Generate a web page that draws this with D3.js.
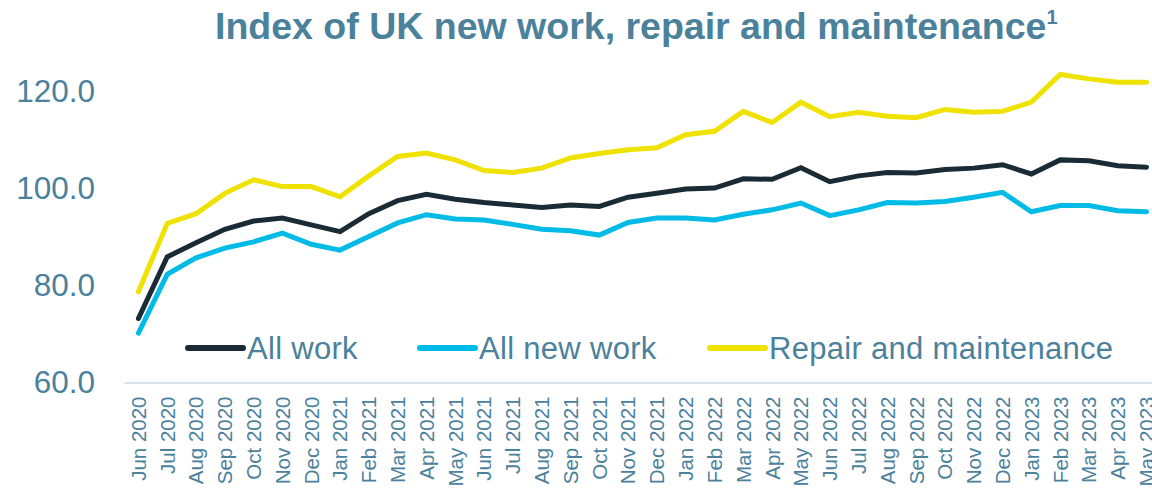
<!DOCTYPE html>
<html>
<head>
<meta charset="utf-8">
<script src="https://cdn.jsdelivr.net/npm/d3@7"></script>
<style>
  html, body { margin: 0; padding: 0; background: #ffffff; }
  svg { display: block; font-family: "Liberation Sans", Arial, sans-serif; }
</style>
</head>
<body>
<svg id="chart" width="1152" height="488"></svg>
<script>
const months = ["Jun 2020","Jul 2020","Aug 2020","Sep 2020","Oct 2020","Nov 2020","Dec 2020",
  "Jan 2021","Feb 2021","Mar 2021","Apr 2021","May 2021","Jun 2021","Jul 2021","Aug 2021","Sep 2021","Oct 2021","Nov 2021","Dec 2021",
  "Jan 2022","Feb 2022","Mar 2022","Apr 2022","May 2022","Jun 2022","Jul 2022","Aug 2022","Sep 2022","Oct 2022","Nov 2022","Dec 2022",
  "Jan 2023","Feb 2023","Mar 2023","Apr 2023","May 2023"];

const allWork = [73.2, 85.9, 88.8, 91.6, 93.3, 93.9, 92.5, 91.1, 94.8, 97.5, 98.8, 97.8,
  97.1, 96.6, 96.1, 96.6, 96.3, 98.2, 99.0, 99.9, 100.1, 102.0, 101.9, 104.3,
  101.4, 102.6, 103.3, 103.2, 103.9, 104.2, 104.9, 103.0, 105.9, 105.7, 104.7, 104.4];

const allNewWork = [70.2, 82.3, 85.7, 87.7, 89.0, 90.8, 88.5, 87.3, 90.1, 92.9, 94.6, 93.7,
  93.5, 92.6, 91.6, 91.3, 90.4, 93.0, 93.9, 93.9, 93.5, 94.7, 95.6, 97.0,
  94.4, 95.6, 97.1, 97.0, 97.3, 98.2, 99.2, 95.2, 96.5, 96.5, 95.4, 95.2];

const repair = [78.7, 92.8, 94.8, 99.0, 101.8, 100.4, 100.4, 98.3, 102.6, 106.6, 107.3, 105.9,
  103.7, 103.3, 104.2, 106.3, 107.2, 108.0, 108.4, 111.1, 111.8, 115.9, 113.6, 117.8,
  114.8, 115.7, 114.9, 114.6, 116.3, 115.7, 115.9, 117.8, 123.5, 122.6, 121.9, 121.9];

const yTicks = [60, 80, 100, 120];

const seriesNames = ["All work", "All new work", "Repair and maintenance"];
const seriesColors = ["#1b2b35", "#00bbe6", "#f0e200"];
const seriesData = [allWork, allNewWork, repair];

const textColor = "#4b819b";

const svg = d3.select("#chart");

const x = d3.scaleBand().domain(months).range([124, 1161]).paddingInner(0).paddingOuter(0);
const y = d3.scaleLinear().domain([60, 120]).range([382.5, 91.5]);

// Title
const title = svg.append("text")
  .attr("x", 215).attr("y", 39)
  .attr("text-anchor", "start")
  .attr("fill", textColor)
  .attr("font-weight", "bold")
  .attr("font-size", 37.5)
  .text("Index of UK new work, repair and maintenance");
title.append("tspan")
  .attr("font-size", 20)
  .attr("dy", -15)
  .text("1");

// Y axis (labels only)
const yAxis = d3.axisLeft(y).tickValues(yTicks).tickSize(0).tickPadding(0).tickFormat(d3.format(".1f"));
const yg = svg.append("g").attr("transform", "translate(95,0)").call(yAxis);
yg.select(".domain").remove();
yg.selectAll("text")
  .attr("fill", textColor)
  .attr("font-size", 31.5)
  .attr("font-family", "Liberation Sans, Arial, sans-serif");

// X axis
const xAxis = d3.axisBottom(x).tickSize(0).tickPadding(0);
const xg = svg.append("g").attr("transform", `translate(0,${y(60)})`).call(xAxis);
xg.select(".domain")
  .attr("stroke", "#d8e4ee")
  .attr("stroke-width", 2);
xg.selectAll("text")
  .attr("fill", textColor)
  .attr("font-size", 20.5)
  .attr("font-family", "Liberation Sans, Arial, sans-serif")
  .attr("text-anchor", "end")
  .attr("transform", "translate(0,14) rotate(-90)")
  .attr("x", 0)
  .attr("y", 0)
  .attr("dy", "0.36em");

// Lines
const line = d3.line()
  .x((d, i) => x(months[i]) + x.bandwidth() / 2)
  .y(d => y(d));

seriesData.forEach((data, k) => {
  svg.append("path")
    .datum(data)
    .attr("fill", "none")
    .attr("stroke", seriesColors[k])
    .attr("stroke-width", 5)
    .attr("stroke-linejoin", "miter")
    .attr("stroke-linecap", "round")
    .attr("d", line);
});

// Legend
const legendX = [188, 420, 710];
const legend = svg.append("g");
seriesNames.forEach((name, k) => {
  const g = legend.append("g").attr("transform", `translate(${legendX[k]},348)`);
  g.append("line")
    .attr("x1", 0).attr("x2", 55)
    .attr("y1", 0).attr("y2", 0)
    .attr("stroke", seriesColors[k])
    .attr("stroke-width", 6)
    .attr("stroke-linecap", "round");
  g.append("text")
    .attr("x", 59).attr("y", 10.5)
    .attr("fill", textColor)
    .attr("font-size", 31)
    .attr("letter-spacing", 0.3)
    .text(name);
});
</script>
</body>
</html>
